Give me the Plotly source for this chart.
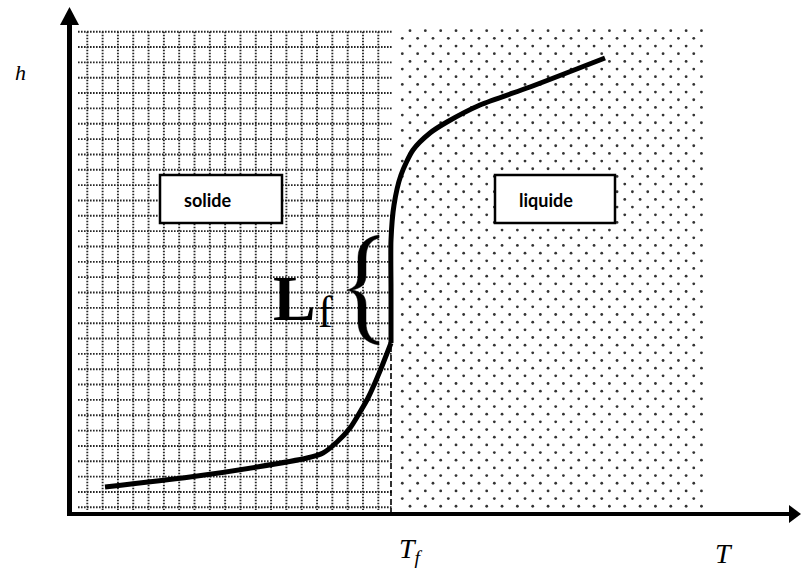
import numpy as np
import plotly.graph_objects as go

# ---- data (schematic units, same scale as the sketch) ----
solid_T = [105, 190, 257, 307, 323, 337, 350, 360, 368, 380, 391]
solid_h = [487, 477, 467, 458, 453, 442, 428, 412, 398, 371, 343]
liquid_T = [391, 391, 391, 394, 401, 413, 430, 447, 480, 530, 605]
liquid_h = [343, 290, 240, 205, 175, 150, 133, 122, 105, 87, 58]
T_fusion = 391
phase_labels = ["solide", "liquide"]
axis_labels = ["h", "T"]

# ---- layout geometry / textures (style, not data) ----
W, H = 801, 568
solid_x0, solid_x1 = 78, 392
liq_x1 = 705
top_y, bot_y = 31.7, 510

fig = go.Figure()

# solid region: dotted grid
gx, gy = [], []
for x in np.linspace(87.3, 378.3, 20):
    gx += [x, x, None]
    gy += [top_y, bot_y, None]
for y in np.linspace(31.7, 507.3, 32):
    gx += [solid_x0, solid_x1, None]
    gy += [y, y, None]
fig.add_trace(go.Scatter(x=gx, y=gy, mode="lines", hoverinfo="skip",
                         line=dict(color="#262626", width=1.9, dash="1.6px,1.4px")))

# liquid region: staggered dots
dx, dy = [], []
step = 15.34
for k in range(63):
    y = 30.7 + 7.67 * k
    x0 = 410 if k % 2 == 0 else 402.3
    xs = np.arange(x0, liq_x1, step)
    dx += list(xs)
    dy += [y] * len(xs)
fig.add_trace(go.Scatter(x=dx, y=dy, mode="markers", hoverinfo="skip",
                         marker=dict(color="#333333", size=2.8, line=dict(width=0))))

# T_f dashed line
fig.add_trace(go.Scatter(x=[T_fusion, T_fusion], y=[346, 512], mode="lines",
                         line=dict(color="black", width=1.6, dash="6px,3px")))

# enthalpy curve
fig.add_trace(go.Scatter(x=solid_T, y=solid_h, mode="lines",
                         line=dict(color="black", width=5, shape="spline", smoothing=0.7)))
fig.add_trace(go.Scatter(x=liquid_T, y=liquid_h, mode="lines",
                         line=dict(color="black", width=5, shape="spline", smoothing=0.7)))

shapes = [
    # y axis
    dict(type="line", x0=69.5, x1=69.5, y0=516, y1=24, line=dict(color="black", width=5)),
    dict(type="path", path="M 60 25 L 79 25 L 69.5 7 Z", fillcolor="black", line=dict(width=0)),
    # x axis
    dict(type="line", x0=67, x1=790, y0=514, y1=514, line=dict(color="black", width=4)),
    dict(type="path", path="M 789 505 L 789 523 L 801 514 Z", fillcolor="black", line=dict(width=0)),
    # label boxes
    dict(type="rect", x0=160, x1=282, y0=175, y1=223, fillcolor="white",
         line=dict(color="black", width=2.5)),
    dict(type="rect", x0=495, x1=615, y0=175, y1=223, fillcolor="white",
         line=dict(color="black", width=2.5)),
    # curly brace
    dict(type="path",
         path=("M 379 235 C 365 237, 358 246, 358 258 L 358 275 C 358 284, 355 288, 347 290 "
               "C 355 292, 358 296, 358 305 L 358 322 C 358 334, 365 343, 379 345 "
               "L 379 342 C 371 340, 366 334, 366 322 L 366 305 C 366 296, 362 292, 352 290 "
               "C 362 288, 366 284, 366 275 L 366 258 C 366 246, 371 240, 379 238 Z"),
         fillcolor="black", line=dict(color="black", width=0.5)),
]
for s in shapes:
    s.setdefault("xref", "x")
    s.setdefault("yref", "y")
    s["layer"] = "above"

serif = "Liberation Serif"
ann = [
    dict(x=208, y=200, text="<b>%s</b>" % phase_labels[0], font=dict(family="Lato", size=18, color="black")),
    dict(x=546, y=200, text="<b>%s</b>" % phase_labels[1], font=dict(family="Lato", size=18, color="black")),
    dict(x=294, y=298, text="<b>L</b>", font=dict(family=serif, size=64, color="black")),
    dict(x=325, y=312, text="f", font=dict(family=serif, size=44, color="#000000")),
    dict(x=20, y=72, text="<i>%s</i>" % axis_labels[0], font=dict(family=serif, size=22, color="black")),
    dict(x=411, y=550, text="<i>T<sub>f</sub></i>", font=dict(family=serif, size=28, color="black")),
    dict(x=724, y=553, text="<i>%s</i>" % axis_labels[1], font=dict(family=serif, size=28, color="black")),
]
for a in ann:
    a.update(showarrow=False, xref="x", yref="y", xanchor="center", yanchor="middle")

fig.update_layout(
    width=W, height=H, margin=dict(l=0, r=0, t=0, b=0),
    paper_bgcolor="white", plot_bgcolor="white", showlegend=False,
    xaxis=dict(range=[0, W], visible=False, fixedrange=True),
    yaxis=dict(range=[H, 0], visible=False, fixedrange=True),
    shapes=shapes, annotations=ann,
)
fig.write_html("out.html", config={"displayModeBar": False},
               post_script="document.body.style.margin='0px';document.body.style.overflow='hidden';")
